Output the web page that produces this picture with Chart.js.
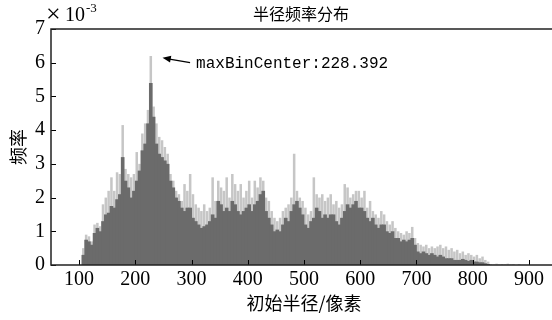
<!DOCTYPE html>
<html>
<head>
<meta charset="utf-8">
<script src="https://cdn.jsdelivr.net/npm/chart.js@4.4.0/dist/chart.umd.min.js"></script>
<style>
  html, body { margin: 0; padding: 0; background: #fff; overflow: hidden; width: 552px; height: 320px; }
  #wrap { width: 560px; height: 320px; }
</style>
</head>
<body>
<div id="wrap"><canvas id="hist" width="560" height="320"></canvas></div>
<script>
// histogram bins: left edge of first bin and bin width (pixels radius)
const binStart = 105;
const binWidth = 5;

// dense (dark) part of each bin, in units of 1e-3
const fillValues = [
  0.3, 0.75, 0.7, 0.6, 0.95, 1.1, 1.0, 1.3, 1.5, 1.55,
  1.75, 1.7, 1.95, 2.1, 3.2, 2.5, 2.3, 2.0, 2.2, 2.5,
  2.8, 3.4, 3.6, 4.2, 5.4, 4.4, 3.6, 3.3, 3.2, 3.1,
  3.0, 2.5, 2.3, 2.0, 1.9, 1.7, 1.6, 1.7, 1.7, 1.4,
  1.3, 1.2, 1.1, 1.15, 1.2, 1.3, 1.5, 1.4, 1.9, 1.8,
  1.6, 1.7, 1.6, 1.9, 1.8, 1.6, 1.5, 1.6, 1.7, 1.8,
  1.6, 1.8, 1.9, 2.1, 2.2, 1.6, 1.4, 1.2, 1.0, 1.05,
  1.0, 1.2, 1.4, 1.3, 1.6, 1.8, 1.9, 1.7, 1.5, 1.2,
  1.1, 1.3, 1.4, 1.7, 1.6, 1.4, 1.5, 1.4, 1.5, 1.5,
  1.3, 1.2, 1.4, 1.6, 1.8, 1.7, 1.8, 1.9, 1.7, 1.7,
  1.6, 1.4, 1.3, 1.4, 1.2, 1.1, 1.2, 1.2, 1.0, 0.95,
  1.0, 0.8, 0.8, 0.7, 0.75, 0.7, 0.75, 0.8, 0.6, 0.4,
  0.35, 0.4, 0.35, 0.3, 0.35, 0.3, 0.25, 0.3, 0.25, 0.2,
  0.2, 0.2, 0.15, 0.15, 0.15, 0.18, 0.15, 0.12, 0.15, 0.1,
  0.1, 0.08, 0.08, 0.05, 0.03, 0, 0, 0, 0, 0,
  0, 0, 0, 0, 0, 0
];

// tallest thin spikes inside each bin, in units of 1e-3
const peakValues = [
  0.5, 0.9, 0.85, 0.7, 1.2, 1.25, 1.15, 1.8, 2.0, 2.2,
  2.6, 2.2, 2.75, 2.7, 4.15, 2.85, 2.7, 2.6, 2.7, 3.35,
  3.0, 3.9, 4.2, 4.6, 6.2, 4.7, 4.2, 3.8, 3.7, 3.5,
  3.3, 2.7, 2.5, 2.2, 2.1, 1.9, 2.4, 2.2, 2.7, 2.1,
  1.8, 1.7, 1.6, 1.8, 1.6, 1.7, 2.6, 1.9, 2.5, 2.3,
  2.2, 2.6, 2.0, 2.7, 2.4, 2.2, 2.4, 2.0, 2.2, 2.5,
  2.0, 2.5, 2.3, 2.6, 2.5, 2.0, 1.9, 1.6, 1.4, 1.3,
  1.4, 1.6, 1.7, 1.8, 2.0, 3.3, 2.2, 2.0, 1.9, 1.7,
  1.5, 1.6, 2.6, 2.1, 2.0, 2.1, 1.9, 2.0, 2.1, 1.8,
  1.9, 1.7, 1.8, 2.4, 2.3, 2.0, 2.1, 2.2, 2.2, 2.0,
  2.2, 1.7, 1.9, 1.6, 1.5, 1.4, 1.6, 1.5, 1.3, 1.2,
  1.3, 1.1, 1.0, 0.95, 0.9, 1.0, 0.95, 1.13, 0.8, 0.65,
  0.6, 0.55, 0.6, 0.5, 0.55, 0.5, 0.55, 0.6, 0.5, 0.55,
  0.45, 0.5, 0.4, 0.45, 0.35, 0.4, 0.3, 0.35, 0.3, 0.25,
  0.3, 0.2, 0.25, 0.15, 0.1, 0.03, 0.02, 0.04, 0.02, 0.03,
  0.02, 0.04, 0.02, 0.03, 0, 0.03
];

const xTickLabels = [100, 200, 300, 400, 500, 600, 700, 800, 900];
const yTickLabels = [0, 1, 2, 3, 4, 5, 6, 7];
const maxBinCenter = 228.392;
const maxBinValue = 6.2;

const binCenters = fillValues.map((v, i) => binStart + binWidth * i + binWidth / 2);

const serif = "'Liberation Serif', 'DejaVu Serif', serif";
const cjk = "'Noto Sans CJK SC', sans-serif";

const histDecor = {
  id: "histDecor",
  afterDraw(chart) {
    const { ctx, chartArea: a, scales } = chart;
    const x = scales.x, y = scales.y;
    ctx.save();

    // inward tick marks
    ctx.strokeStyle = "#000";
    ctx.lineWidth = 1;
    ctx.beginPath();
    xTickLabels.forEach(v => {
      const px = Math.round(x.getPixelForValue(v)) + 0.5;
      ctx.moveTo(px, a.bottom);
      ctx.lineTo(px, a.bottom - 5);
    });
    yTickLabels.forEach(v => {
      const py = Math.round(y.getPixelForValue(v)) + 0.5;
      ctx.moveTo(a.left, py);
      ctx.lineTo(a.left + 5, py);
    });
    ctx.stroke();

    // box: top, left, bottom
    ctx.strokeStyle = "#222";
    ctx.lineWidth = 1.5;
    ctx.beginPath();
    ctx.moveTo(a.right, a.top);
    ctx.lineTo(a.left, a.top);
    ctx.lineTo(a.left, a.bottom);
    ctx.lineTo(a.right, a.bottom);
    ctx.stroke();

    // exponent label
    ctx.fillStyle = "#000";
    ctx.textBaseline = "alphabetic";
    ctx.textAlign = "left";
    ctx.font = "26px " + serif;
    ctx.fillText("\u00d7", a.left - 5, a.top - 7);
    ctx.font = "20px " + serif;
    ctx.fillText("10", a.left + 14, a.top - 8);
    ctx.font = "13px " + serif;
    ctx.fillText("-3", a.left + 35, a.top - 17);

    // title
    ctx.font = "16px " + cjk;
    ctx.textAlign = "center";
    ctx.textBaseline = "middle";
    ctx.fillText("半径频率分布", (a.left + a.right) / 2 - 3, 14);

    // annotation arrow to the tallest bin
    const hx = x.getPixelForValue(maxBinCenter + 20);
    const hy = y.getPixelForValue(maxBinValue - 0.05);
    const tx = x.getPixelForValue(maxBinCenter + 69);
    const ty = y.getPixelForValue(maxBinValue - 0.2);
    ctx.strokeStyle = "#000";
    ctx.lineWidth = 1.2;
    ctx.beginPath();
    ctx.moveTo(tx, ty);
    ctx.lineTo(hx + 4, hy + 1);
    ctx.stroke();
    const ang = Math.atan2(hy - ty, hx - tx);
    ctx.beginPath();
    ctx.moveTo(hx, hy);
    ctx.lineTo(hx - 9 * Math.cos(ang - 0.4), hy - 9 * Math.sin(ang - 0.4));
    ctx.lineTo(hx - 9 * Math.cos(ang + 0.4), hy - 9 * Math.sin(ang + 0.4));
    ctx.closePath();
    ctx.fillStyle = "#000";
    ctx.fill();

    ctx.font = "16px 'Liberation Mono', 'DejaVu Sans Mono', monospace";
    ctx.textAlign = "left";
    ctx.textBaseline = "middle";
    ctx.fillText("maxBinCenter:" + maxBinCenter, tx + 6, ty + 1);

    ctx.restore();
  }
};

new Chart(document.getElementById("hist").getContext("2d"), {
  type: "bar",
  data: {
    datasets: [
      {
        label: "fill",
        data: binCenters.map((c, i) => ({ x: c, y: fillValues[i] })),
        backgroundColor: "#6b6b6b",
        borderWidth: 0,
        barPercentage: 1.3,
        categoryPercentage: 1,
        grouped: false
      },
      {
        label: "peak",
        data: binCenters.map((c, i) => ({ x: c, y: peakValues[i] })),
        backgroundColor: "#c6c6c6",
        borderWidth: 0,
        barPercentage: 0.9,
        categoryPercentage: 1,
        grouped: false
      }
    ]
  },
  options: {
    responsive: false,
    animation: false,
    layout: { padding: { top: 29, right: 3, bottom: 0, left: 0 } },
    plugins: { legend: { display: false }, tooltip: { enabled: false }, title: { display: false } },
    scales: {
      x: {
        type: "linear",
        offset: false,
        min: 50,
        max: 950,
        afterBuildTicks: s => { s.ticks = xTickLabels.map(v => ({ value: v })); },
        afterFit: s => { s.height = 55; },
        grid: { display: false, drawTicks: false, offset: false },
        border: { display: false },
        ticks: { color: "#000", font: { family: serif, size: 20 }, padding: 3, maxRotation: 0, autoSkip: false },
        title: {
          display: true,
          text: "初始半径/像素",
          color: "#000",
          font: { family: cjk, size: 18 },
          padding: { top: 0, bottom: 6 }
        }
      },
      y: {
        min: 0,
        max: 7,
        afterBuildTicks: s => { s.ticks = yTickLabels.map(v => ({ value: v })); },
        afterFit: s => { s.width = 51; },
        grid: { display: false, drawTicks: false },
        border: { display: false },
        ticks: { color: "#000", font: { family: serif, size: 20 }, padding: 6 },
        title: {
          display: true,
          text: "频率",
          color: "#000",
          font: { family: cjk, size: 18 },
          padding: { top: 7, bottom: 0 }
        }
      }
    }
  },
  plugins: [histDecor]
});
</script>
</body>
</html>
